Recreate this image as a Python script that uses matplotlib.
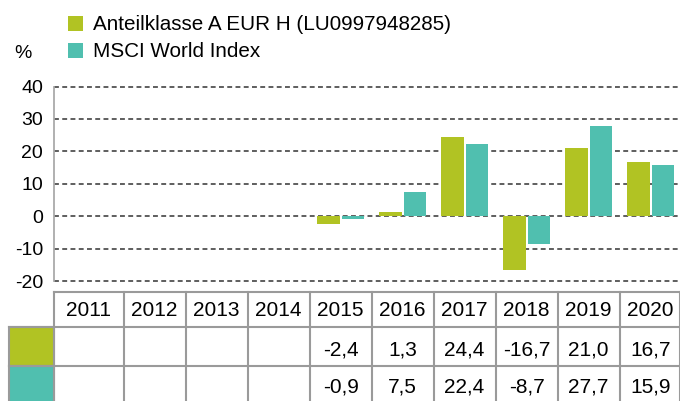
import numpy as np
import matplotlib.pyplot as plt
from matplotlib.patches import Rectangle

plt.rcParams['font.family'] = ['Liberation Sans', 'DejaVu Sans']

years = [2011, 2012, 2013, 2014, 2015, 2016, 2017, 2018, 2019, 2020]
fonds = [np.nan, np.nan, np.nan, np.nan, -2.4, 1.3, 24.4, -16.7, 21.0, 16.7]
msci = [np.nan, np.nan, np.nan, np.nan, -0.9, 7.5, 22.4, -8.7, 27.7, 15.9]
namen = ['Anteilklasse A EUR H (LU0997948285)', 'MSCI World Index']
farben = ['#b1c323', '#50bfaf']
yticks = [-20, -10, 0, 10, 20, 30, 40]

W, H = 680, 401
fig = plt.figure(figsize=(W / 100, H / 100), dpi=100)

# pixel -> daten umrechnung (eine kategorie = 62 px, 2011 bei x=92.6)
def px2x(px):
    return (px - 92.6) / 62.0

ax = fig.add_axes([54 / W, (H - 281) / H, (W - 54) / W, (281 - 86.5) / H])
x = np.arange(len(years))
b1 = ax.bar(x - 0.2, fonds, width=0.37, color=farben[0], label=namen[0], zorder=3)
b2 = ax.bar(x + 0.2, msci, width=0.37, color=farben[1], label=namen[1], zorder=3)
ax.set_xlim(px2x(54), px2x(W))
ax.set_ylim(-20, 40)
for t in yticks:
    ax.axhline(t, color='#333333', lw=1.1, ls=(0, (3.2, 2.2)), zorder=2, clip_on=False)
ax.set_yticks(yticks)
ax.set_yticklabels([str(t) for t in yticks], fontsize=14)
ax.tick_params(axis='y', length=0, pad=8)
ax.set_xticks([])
for s in ['top', 'right', 'bottom']:
    ax.spines[s].set_visible(False)
ax.spines['left'].set_color('#aaaaaa')
ax.spines['left'].set_linewidth(1.3)

fig.text(14 / W, 1 - 53 / H, '%', fontsize=14, va='center', ha='left')
fig.legend(handles=[b1, b2], loc='upper left', bbox_to_anchor=(68 / W, 1 - 15.5 / H),
           frameon=False, fontsize=14.9, handlelength=0.72, handleheight=0.72,
           handletextpad=0.48, labelspacing=0.38, borderaxespad=0, borderpad=0)

# tabelle unten
tab = fig.add_axes([0, 0, 1, (H - 291.7) / H])
tab.set_xlim(px2x(0), px2x(W))
tab.set_ylim(H, 291.7)
tab.axis('off')
lc = '#9a9a9a'
lw = 1.5
xl, xr = px2x(54), px2x(W)
xc = px2x(9.3)
rows = [291.7, 327.3, 365.5, H + 5]
tab.plot([xl, xr], [rows[0], rows[0]], color=lc, lw=lw, clip_on=False)
for r in rows[1:3]:
    tab.plot([xc, xr], [r, r], color=lc, lw=lw, clip_on=False)
grenzen = [xl] + [i + 0.5 for i in range(len(years) - 1)] + [xr]
for g in grenzen:
    tab.plot([g, g], [rows[0], rows[3]], color=lc, lw=lw, clip_on=False)
for k in range(2):
    tab.add_patch(Rectangle((xc, rows[k + 1]), xl - xc, rows[k + 2] - rows[k + 1],
                            facecolor=farben[k], edgecolor=lc, lw=lw, zorder=1))

mitten = [(xl + 0.5) / 2] + [float(i) for i in range(1, len(years))]
for i, jahr in enumerate(years):
    tab.text(mitten[i], 310, str(jahr), ha='center', va='center', fontsize=15)
for k, serie in enumerate([fonds, msci]):
    for i, v in enumerate(serie):
        if np.isnan(v):
            continue
        txt = f'{v:.1f}'.replace('.', ',')
        tab.text(mitten[i], [349.5, 387][k], txt, ha='center', va='center', fontsize=15)

fig.savefig('out.png', dpi=100)
